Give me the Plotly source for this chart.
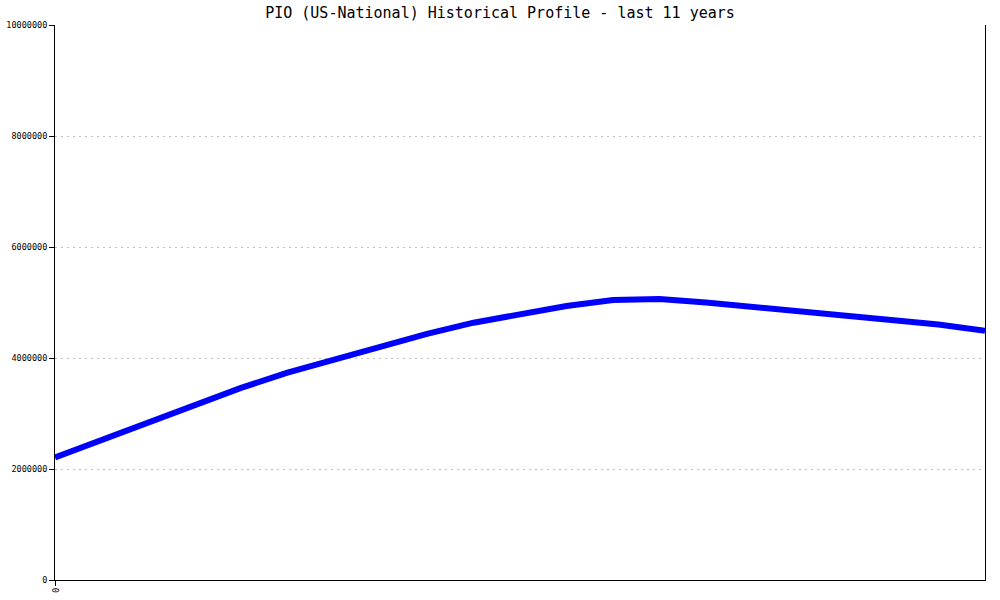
import plotly.graph_objects as go

# Sample positions along the 11-year span (half-year steps)
x_index = list(range(21))
values = [2207000, 2521000, 2834000, 3148000, 3461000, 3735000, 3969000, 4204000,
          4436000, 4636000, 4786000, 4937000, 5045000, 5063000, 5000000, 4923000,
          4856000, 4775000, 4694000, 4604000, 4492000]

y_ticks = [0, 2000000, 4000000, 6000000, 8000000, 10000000]
y_tick_labels = ["0", "2000000", "4000000", "6000000", "8000000", "10000000"]
x_ticks = [0]
x_tick_labels = ["0"]

title_text = "PIO (US-National) Historical Profile - last 11 years"

fig = go.Figure()
fig.add_trace(go.Scatter(
    x=x_index, y=values, mode="lines",
    line=dict(color="#0000ff", width=6),
    showlegend=False, hoverinfo="skip",
))

fig.update_layout(
    width=1000, height=600,
    margin=dict(l=55, r=15, t=25, b=20, autoexpand=False),
    paper_bgcolor="white", plot_bgcolor="white",
    title=dict(text=title_text, x=0.5, xanchor="center", y=0.978, yanchor="middle",
               font=dict(family="DejaVu Sans Mono", size=15, color="black")),
    font=dict(family="DejaVu Sans Mono", color="black"),
)

fig.update_xaxes(
    range=[0, 20], tickvals=x_ticks, ticktext=x_tick_labels, tickangle=90,
    showgrid=False, zeroline=False, showline=True, linecolor="black", linewidth=1,
    ticks="outside", ticklen=5, tickcolor="black", automargin=False,
    tickfont=dict(family="DejaVu Sans Mono", size=8.5),
)
fig.update_yaxes(
    range=[0, 10000000], tickvals=y_ticks, ticktext=y_tick_labels,
    showgrid=True, gridcolor="#c0c0c0", griddash="2px,4px", gridwidth=1,
    zeroline=False, showline=True, linecolor="black", linewidth=1, mirror=True,
    ticks="outside", ticklen=5, tickcolor="black", automargin=False,
    tickfont=dict(family="DejaVu Sans Mono", size=8.5),
)

fig.write_html("out.html", config={"displayModeBar": False},
               post_script="document.body.style.margin='0';")
